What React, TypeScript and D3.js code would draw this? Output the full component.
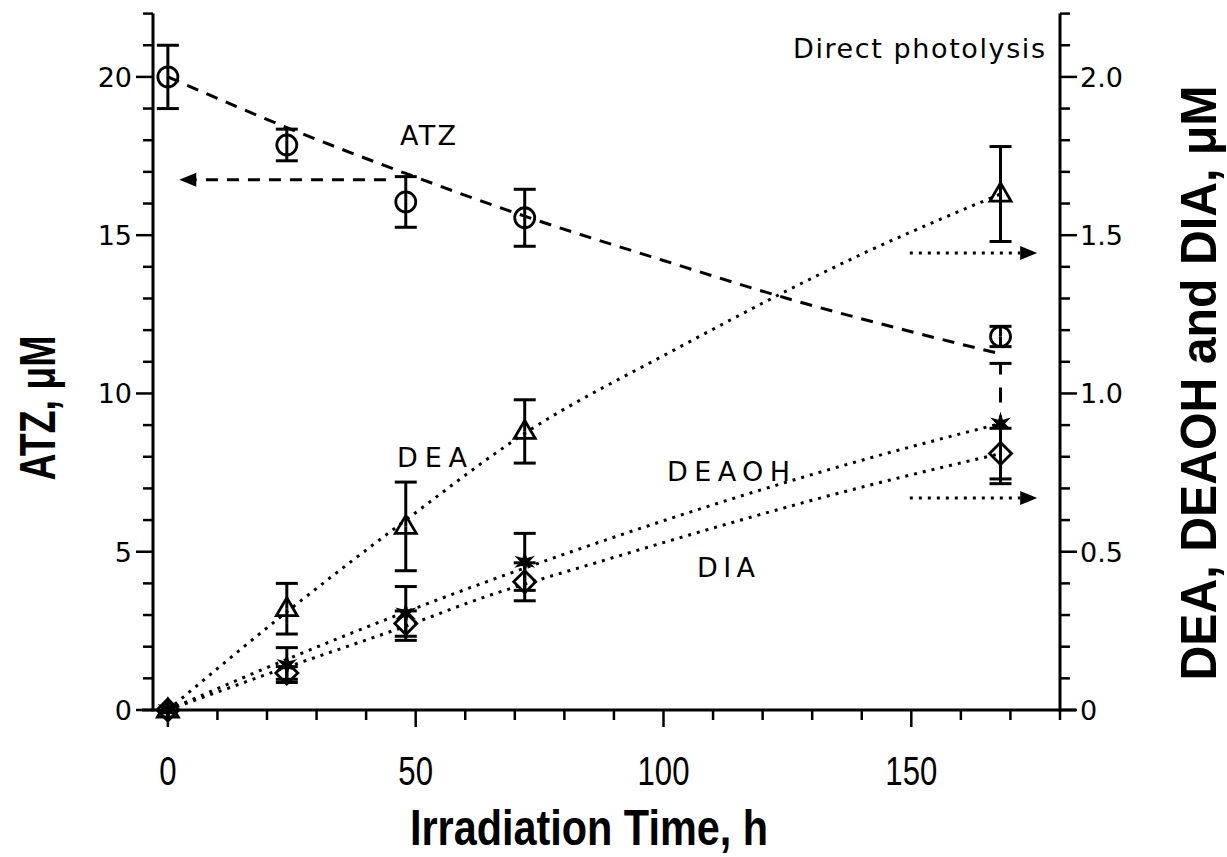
import React from "react";
import * as d3 from "d3";

// Measured data (ATZ on left axis, metabolites on right axis)
const times = [0, 24, 48, 72, 168];
const atzValues = [20.0, 17.85, 16.05, 15.55, 11.8];
const atzErrors = [1.0, 0.5, 0.8, 0.9, 0.32];
const deaValues = [0, 0.32, 0.58, 0.88, 1.63];
const deaErrors = [0, 0.08, 0.14, 0.1, 0.15];
const deaohValues = [0, 0.142, 0.305, 0.468, 0.905];
const deaohErrors = [0, 0.055, 0.085, 0.09, 0.19];
const diaValues = [0, 0.117, 0.273, 0.405, 0.81];
const diaErrors = [0, 0.02, 0.04, 0.06, 0.08];

// Fitted curves
const atzFitTimes = [0, 24, 48, 72, 100, 125, 150, 168];
const atzFitValues = [20, 18.4, 16.95, 15.6, 14.2, 13.0, 11.95, 11.25];
const deaFitTimes = [0, 24, 48, 72, 102, 140, 168];
const deaFitValues = [0, 0.31, 0.6, 0.874, 1.136, 1.44, 1.63];
const deaohFitTimes = [0, 24, 48, 75, 87, 140, 168];
const deaohFitValues = [0, 0.16, 0.31, 0.465, 0.53, 0.789, 0.905];
const diaFitTimes = [0, 24, 48, 63, 87, 140, 168];
const diaFitValues = [0, 0.135, 0.265, 0.352, 0.468, 0.704, 0.81];

// Ticks
const xMajorTicks = [0, 50, 100, 150];
const leftMajorTicks = [0, 5, 10, 15, 20];
const rightMajorTicks = [0, 0.5, 1.0, 1.5, 2.0];

const SANS = "'Liberation Sans', Arial, Helvetica, sans-serif";
const WIDE = "'DejaVu Sans', Verdana, sans-serif";

function starPath(outer: number, inner: number, n: number) {
  const pts: [number, number][] = [];
  for (let i = 0; i < 2 * n; i++) {
    const a = -Math.PI / 2 + (i * Math.PI) / n;
    const r = i % 2 === 0 ? outer : inner;
    pts.push([r * Math.cos(a), r * Math.sin(a)]);
  }
  return "M" + pts.map((p) => p.join(",")).join("L") + "Z";
}

export default function App() {
  const x = d3.scaleLinear().domain([-3, 180]).range([153, 1060]);
  const yL = d3.scaleLinear().domain([0, 22]).range([710, 13.6]);
  const yR = d3.scaleLinear().domain([0, 2.2]).range([710, 13.6]);

  const lineL = d3
    .line<[number, number]>()
    .x((d) => x(d[0]))
    .y((d) => yL(d[1]))
    .curve(d3.curveMonotoneX);
  const lineR = d3
    .line<[number, number]>()
    .x((d) => x(d[0]))
    .y((d) => yR(d[1]))
    .curve(d3.curveMonotoneX);

  const zip = (a: number[], b: number[]) => a.map((t, i) => [t, b[i]] as [number, number]);

  const stroke = "#000";
  const sw = 3;

  const minorX = d3.range(0, 181, 10);
  const minorL = d3.range(0, 23, 1);
  const minorR = d3.range(0, 23, 1).map((v) => v / 10);

  const errorBars = (
    vals: number[],
    errs: number[],
    y: d3.ScaleLinear<number, number>,
    key: string,
    dashedUpper: number[] = []
  ) =>
    times.map((t, i) => {
      if (errs[i] === 0) return null;
      const cx = x(t);
      const yc = y(vals[i]);
      const yt = y(vals[i] + errs[i]);
      const yb = y(vals[i] - errs[i]);
      return (
        <g key={key + i} stroke={stroke} strokeWidth={sw} fill="none">
          <line
            x1={cx}
            x2={cx}
            y1={yt}
            y2={yc}
            strokeDasharray={dashedUpper.includes(i) ? "11,13,15,13,40" : undefined}
          />
          <line x1={cx} x2={cx} y1={yc} y2={yb} />
          <line x1={cx - 11} x2={cx + 11} y1={yt} y2={yt} />
          <line x1={cx - 11} x2={cx + 11} y1={yb} y2={yb} />
        </g>
      );
    });

  const arrow = (x1: number, x2: number, yPix: number, dash: string, key: string) => {
    const dir = Math.sign(x2 - x1);
    const headLen = 17;
    const headHalf = 7;
    return (
      <g key={key}>
        <line
          x1={x1}
          x2={x2 - dir * headLen}
          y1={yPix}
          y2={yPix}
          stroke={stroke}
          strokeWidth={3}
          strokeDasharray={dash}
        />
        <path
          d={`M${x2},${yPix}L${x2 - dir * headLen},${yPix - headHalf}L${x2 - dir * headLen},${yPix + headHalf}Z`}
          fill={stroke}
        />
      </g>
    );
  };

  const star = starPath(12, 4.5, 6);

  return (
    <svg
      width={1227}
      height={857}
      style={{ position: "absolute", left: 0, top: 0, background: "#fff" }}
      fontFamily={SANS}
    >
      <rect width={1227} height={857} fill="#fff" />

      {/* Axes lines */}
      <g stroke={stroke} strokeWidth={3} fill="none">
        <line x1={x(-3)} x2={x(-3)} y1={yL(22)} y2={yL(0) + 1.5} />
        <line x1={x(180)} x2={x(180)} y1={yR(2.2)} y2={yR(0) + 1.5} />
        <line x1={142} x2={1076} y1={yL(0)} y2={yL(0)} />
      </g>

      {/* Ticks */}
      <g stroke={stroke} strokeWidth={2.5}>
        {minorL.map((v) => (
          <line
            key={"lt" + v}
            x1={x(-3)}
            x2={x(-3) - (v % 5 === 0 ? 17 : 10)}
            y1={yL(v)}
            y2={yL(v)}
          />
        ))}
        {minorR.map((v, i) => (
          <line
            key={"rt" + i}
            x1={x(180)}
            x2={x(180) + (i % 5 === 0 ? 17 : 10)}
            y1={yR(v)}
            y2={yR(v)}
          />
        ))}
        {minorX.map((v) => (
          <line
            key={"xt" + v}
            x1={x(v)}
            x2={x(v)}
            y1={yL(0)}
            y2={yL(0) + (v % 50 === 0 ? 17 : 10)}
          />
        ))}
      </g>

      {/* Tick labels */}
      <g fontSize={27} fill="#000" fontFamily={WIDE}>
        {leftMajorTicks.map((v) => (
          <text key={"ll" + v} x={132} y={yL(v) + 10} textAnchor="end">
            {String(v)}
          </text>
        ))}
        {rightMajorTicks.map((v) => (
          <text key={"rl" + v} x={1080} y={yR(v) + 10} textAnchor="start">
            {v === 0 ? "0" : d3.format(".1f")(v)}
          </text>
        ))}
      </g>
      <g fontSize={41} fill="#000">
        {xMajorTicks.map((v) => (
          <text
            key={"xl" + v}
            transform={`translate(${x(v)},${785}) scale(0.76,1)`}
            textAnchor="middle"
          >
            {String(v)}
          </text>
        ))}
      </g>

      {/* Axis titles */}
      <text
        x={589}
        y={845}
        fontSize={50}
        fontWeight="bold"
        textAnchor="middle"
        textLength={358}
        lengthAdjust="spacingAndGlyphs"
      >
        Irradiation Time, h
      </text>
      <text
        transform="translate(55,408) rotate(-90)"
        fontSize={50}
        fontWeight="bold"
        textAnchor="middle"
        textLength={145}
        lengthAdjust="spacingAndGlyphs"
      >
        ATZ, μM
      </text>
      <text
        transform="translate(1216,383) rotate(-90)"
        fontSize={50}
        fontWeight="bold"
        textAnchor="middle"
        textLength={595}
        lengthAdjust="spacingAndGlyphs"
      >
        DEA, DEAOH and DIA, μM
      </text>

      {/* Fit lines */}
      <path
        d={lineL(zip(atzFitTimes, atzFitValues)) || ""}
        fill="none"
        stroke={stroke}
        strokeWidth={3}
        strokeDasharray="12,9"
      />
      <path
        d={lineR(zip(deaFitTimes, deaFitValues)) || ""}
        fill="none"
        stroke={stroke}
        strokeWidth={3}
        strokeDasharray="3,6"
      />
      <path
        d={lineR(zip(deaohFitTimes, deaohFitValues)) || ""}
        fill="none"
        stroke={stroke}
        strokeWidth={3}
        strokeDasharray="3,6"
      />
      <path
        d={lineR(zip(diaFitTimes, diaFitValues)) || ""}
        fill="none"
        stroke={stroke}
        strokeWidth={3}
        strokeDasharray="3,6"
      />

      {/* Arrows */}
      {arrow(x(44), x(2.3), yL(16.75), "12,9", "a1")}
      {arrow(x(149.7), x(175.4), yR(1.444), "3,6", "a2")}
      {arrow(x(149.7), x(175.4), yR(0.67), "3,6", "a3")}

      {/* Error bars */}
      {errorBars(atzValues, atzErrors, yL, "atz")}
      {errorBars(deaValues, deaErrors, yR, "dea")}
      {errorBars(deaohValues, deaohErrors, yR, "deaoh", [4])}
      {errorBars(diaValues, diaErrors, yR, "dia")}

      {/* Markers */}
      <g fill="none" stroke={stroke} strokeWidth={2.8}>
        {times.map((t, i) => (
          <circle key={"c" + i} cx={x(t)} cy={yL(atzValues[i])} r={10} />
        ))}
        {times.map((t, i) => (
          <path
            key={"tr" + i}
            transform={`translate(${x(t)},${yR(deaValues[i])})`}
            d="M0,-11L10.5,7L-10.5,7Z"
          />
        ))}
        {times.map((t, i) => (
          <path
            key={"dm" + i}
            transform={`translate(${x(t)},${yR(diaValues[i])})`}
            d="M0,-11L11,0L0,11L-11,0Z"
          />
        ))}
      </g>
      <g fill={stroke}>
        {times.map((t, i) => (
          <path key={"st" + i} transform={`translate(${x(t)},${yR(deaohValues[i])})`} d={star} />
        ))}
      </g>

      {/* Annotations */}
      <g fontSize={27} fill="#000" fontFamily={WIDE}>
        <text x={793} y={58} textLength={252} lengthAdjust="spacing">
          Direct photolysis
        </text>
        <text x={400} y={145} textLength={56} lengthAdjust="spacing">
          ATZ
        </text>
        <text x={397} y={467} textLength={70} lengthAdjust="spacing">
          DEA
        </text>
        <text x={667} y={481} textLength={123} lengthAdjust="spacing">
          DEAOH
        </text>
        <text x={697} y={577} textLength={58} lengthAdjust="spacing">
          DIA
        </text>
      </g>
    </svg>
  );
}
